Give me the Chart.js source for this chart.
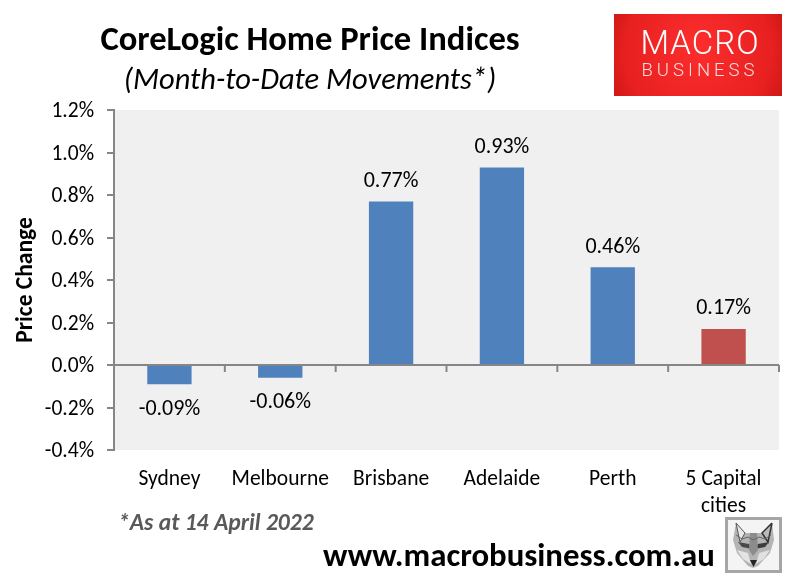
<!DOCTYPE html>
<html lang="en">
<head>
  <meta charset="UTF-8">
  <title>CoreLogic Home Price Indices</title>
  <script src="https://cdn.jsdelivr.net/npm/chart.js"></script>
  <style>
    html, body { margin: 0; padding: 0; background: #fff; }
    canvas { display: block; }
    #fox { position: absolute; left: 725px; top: 517px; width: 51px; height: 50px; border: 3px solid #a6a6a6; background: #f4f4f4; }
  </style>
</head>
<body>
  <canvas id="priceChart" width="792" height="583"></canvas>
  <svg id="fox" viewBox="0 0 51 50">
    <polygon points="8,3 17,13 33,13 44,3 46,20 42,33 30,46 25,48 20,46 9,33 5,20" fill="#b4b4b4"/>
    <polyline points="8,3 17,13 12,22 8,3" fill="#e8e8e8" stroke="#555" stroke-width="1"/>
    <polyline points="44,3 34,13 40,22 44,3" fill="#bbb" stroke="#333" stroke-width="1.5"/>
    <polygon points="10,22 21,24 24,29 14,27" fill="#4a4a4a"/>
    <polygon points="41,22 30,24 27,29 37,27" fill="#3c3c3c"/>
    <polygon points="22,13 29,13 30,30 25,36 21,30" fill="#8c8c8c"/>
    <polygon points="9,30 20,33 23,44 15,39" fill="#e4e4e4"/>
    <polygon points="42,30 31,33 28,44 36,39" fill="#e0e0e0"/>
    <polyline points="8,15 14,19 20,17 25,20 31,17 37,19 43,15" fill="none" stroke="#666" stroke-width="1"/>
    <polygon points="22,40 29,40 25.5,47" fill="#222"/>
  </svg>

  <script>
    const categories = ['Sydney', 'Melbourne', 'Brisbane', 'Adelaide', 'Perth', ['5 Capital', 'cities']];
    const priceChange = [-0.09, -0.06, 0.77, 0.93, 0.46, 0.17];
    const barColors = ['#4F81BD', '#4F81BD', '#4F81BD', '#4F81BD', '#4F81BD', '#C0504D'];
    const yMin = -0.4;
    const yMax = 1.2;
    const yStep = 0.2;

    const FONT = 'Carlito, Lato, sans-serif';
    const AXIS_GREY = '#868686';

    // Title, footer and logo text, all drawn straight on the canvas
    function text(ctx, str, x, y, font, color, align, spacing) {
      ctx.font = font;
      ctx.fillStyle = color;
      ctx.textAlign = align || 'center';
      ctx.textBaseline = 'middle';
      ctx.letterSpacing = spacing || '0px';
      ctx.fillText(str, x, y);
      ctx.letterSpacing = '0px';
    }

    const plotBackground = {
      id: 'plotBackground',
      beforeDraw(chart) {
        const { ctx, chartArea: a } = chart;
        ctx.save();
        ctx.fillStyle = '#F0F0F0';
        ctx.fillRect(a.left, a.top, a.right - a.left, a.bottom - a.top);
        ctx.restore();
      }
    };

    // Category axis sits on the zero line while its labels stay at the bottom
    const zeroAxis = {
      id: 'zeroAxis',
      afterDatasetsDraw(chart) {
        const { ctx, chartArea: a, scales } = chart;
        const zero = Math.round(scales.y.getPixelForValue(0));
        ctx.save();
        ctx.strokeStyle = AXIS_GREY;
        ctx.lineWidth = 2;
        ctx.beginPath();
        ctx.moveTo(a.left - 7, zero);
        ctx.lineTo(a.right, zero);
        const n = categories.length;
        for (let i = 1; i <= n; i++) {
          const x = a.left + (a.right - a.left) * i / n;
          ctx.moveTo(x, zero);
          ctx.lineTo(x, zero + 7);
        }
        ctx.stroke();
        ctx.restore();
      }
    };

    const dataLabels = {
      id: 'dataLabels',
      afterDatasetsDraw(chart) {
        const { ctx } = chart;
        ctx.save();
        chart.getDatasetMeta(0).data.forEach((bar, i) => {
          const v = priceChange[i];
          const y = v < 0 ? bar.y + 25 : bar.y - 20;
          text(ctx, v.toFixed(2) + '%', bar.x, y, '22px ' + FONT, '#000');
        });
        ctx.restore();
      }
    };

    const decorations = {
      id: 'decorations',
      afterDraw(chart) {
        const { ctx } = chart;
        ctx.save();
        text(ctx, 'CoreLogic Home Price Indices', 310, 41, 'bold 34.6px ' + FONT, '#000');
        text(ctx, '(Month-to-Date Movements*)', 310, 81, 'italic 30.5px ' + FONT, '#000');
        text(ctx, '*As at 14 April 2022', 118, 524, 'italic bold 23.6px ' + FONT, '#595959', 'left');
        text(ctx, 'www.macrobusiness.com.au', 323, 558, 'bold 32.8px ' + FONT, '#000', 'left');

        // logo
        const g = ctx.createRadialGradient(698, 45, 10, 698, 55, 100);
        g.addColorStop(0, '#FA2C2C');
        g.addColorStop(0.7, '#E82020');
        g.addColorStop(1, '#C81414');
        ctx.fillStyle = g;
        ctx.fillRect(614, 14, 168, 82);
        text(ctx, 'MACRO', 700, 46, '300 33px Roboto, sans-serif', '#fff', 'center', '1px');
        text(ctx, 'BUSINESS', 700, 71, '300 18.5px Roboto, sans-serif', '#f8dede', 'center', '4px');
        ctx.restore();
      }
    };

    new Chart(document.getElementById('priceChart'), {
      type: 'bar',
      data: {
        labels: categories,
        datasets: [{
          data: priceChange,
          backgroundColor: barColors,
          categoryPercentage: 1,
          barPercentage: 0.4
        }]
      },
      options: {
        responsive: false,
        animation: false,
        layout: { padding: { top: 110, right: 13, left: 0, bottom: 0 } },
        plugins: { legend: { display: false }, tooltip: { enabled: false }, title: { display: false } },
        scales: {
          x: {
            grid: { display: false },
            border: { display: false },
            ticks: { color: '#000', font: { family: FONT, size: 21.5, lineHeight: 1.25 }, padding: 8, maxRotation: 0, autoSkip: false },
            afterFit(scale) { scale.height = 133; }
          },
          y: {
            min: yMin,
            max: yMax,
            grid: { drawOnChartArea: false, color: AXIS_GREY, lineWidth: 2, tickLength: 7 },
            border: { color: AXIS_GREY, width: 2 },
            title: { display: true, text: 'Price Change', color: '#000', font: { family: FONT, size: 23.5, weight: 'bold' }, padding: { top: 12, bottom: 0 } },
            ticks: {
              stepSize: yStep,
              color: '#000',
              padding: 13,
              labelOffset: 2,
              font: { family: FONT, size: 21.5 },
              callback: v => v.toFixed(1) + '%'
            },
            afterFit(scale) { scale.width = 114; }
          }
        }
      },
      plugins: [plotBackground, zeroAxis, dataLabels, decorations]
    });
  </script>
</body>
</html>
